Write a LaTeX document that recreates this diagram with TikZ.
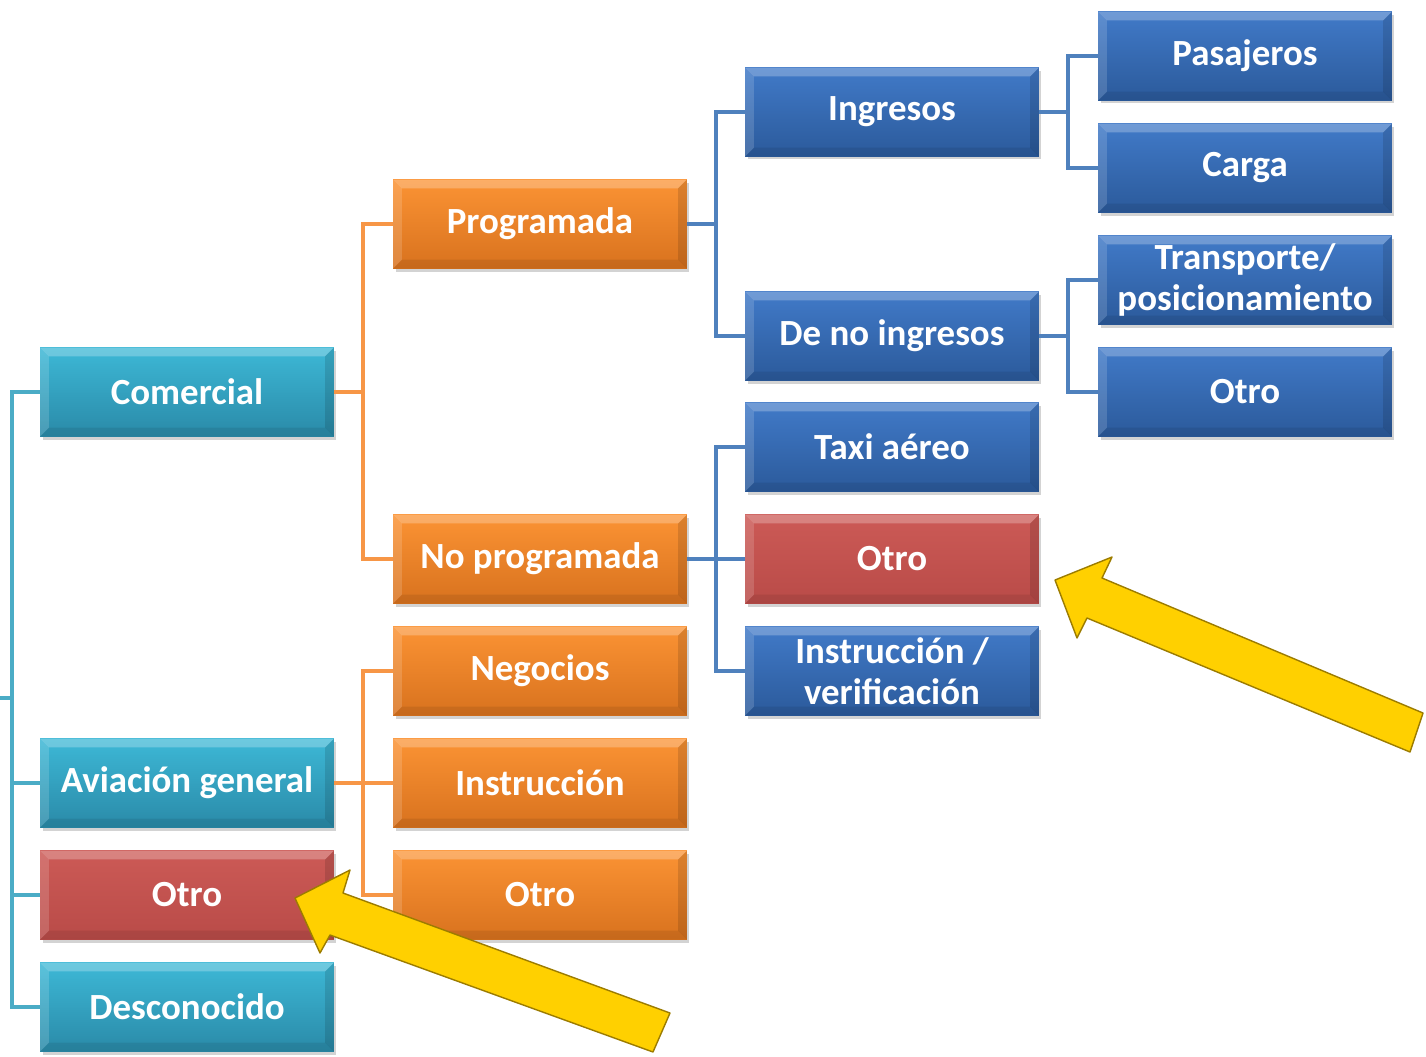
\documentclass[tikz,border=0pt]{standalone}
\usepackage{fontspec}
\setmainfont{Carlito}
\usetikzlibrary{shadows}
\definecolor{tealtop}{HTML}{3DB8D6}
\definecolor{tealbot}{HTML}{2A8AA8}
\definecolor{orgtop}{HTML}{FB9334}
\definecolor{orgbot}{HTML}{D8721E}
\definecolor{blutop}{HTML}{417AC8}
\definecolor{blubot}{HTML}{2B5A9B}
\definecolor{redtop}{HTML}{CC5A56}
\definecolor{redbot}{HTML}{B94B48}
\definecolor{tealln}{HTML}{4BACC6}
\definecolor{orgln}{HTML}{F79646}
\definecolor{bluln}{HTML}{4F81BD}
\definecolor{flecha}{HTML}{FFD000}
\definecolor{flechaborde}{HTML}{9C7C00}

\tikzset{
  caja/.style={rectangle, minimum width=5.88cm, minimum height=1.78cm, inner sep=0pt,
    text=white, align=center, font=\bfseries\fontsize{21}{23.5}\selectfont,
    drop shadow={shadow xshift=0.05cm, shadow yshift=-0.06cm, opacity=0.35},
    path picture={
      \fill[white,opacity=0.25] (path picture bounding box.north west) -- (path picture bounding box.north east)
        -- ([xshift=-5pt,yshift=-5pt]path picture bounding box.north east) -- ([xshift=5pt,yshift=-5pt]path picture bounding box.north west) -- cycle;
      \fill[white,opacity=0.15] (path picture bounding box.north west) -- ([xshift=5pt,yshift=-5pt]path picture bounding box.north west)
        -- ([xshift=5pt,yshift=5pt]path picture bounding box.south west) -- (path picture bounding box.south west) -- cycle;
      \fill[black,opacity=0.12] (path picture bounding box.north east) -- ([xshift=-5pt,yshift=-5pt]path picture bounding box.north east)
        -- ([xshift=-5pt,yshift=5pt]path picture bounding box.south east) -- (path picture bounding box.south east) -- cycle;
      \fill[black,opacity=0.08] (path picture bounding box.south west) -- ([xshift=5pt,yshift=5pt]path picture bounding box.south west)
        -- ([xshift=-5pt,yshift=5pt]path picture bounding box.south east) -- (path picture bounding box.south east) -- cycle;
    }},
  cteal/.style={caja, top color=tealtop, bottom color=tealbot},
  corg/.style={caja, top color=orgtop, bottom color=orgbot},
  cblu/.style={caja, top color=blutop, bottom color=blubot},
  cred/.style={caja, top color=redtop, bottom color=redbot},
  lteal/.style={draw=tealln, line width=2.2pt},
  lorg/.style={draw=orgln, line width=2.2pt},
  lblu/.style={draw=bluln, line width=2.2pt},
  flechaamar/.style={fill=flecha, draw=flechaborde, line width=0.8pt, line join=round}
}

\begin{document}
\begin{tikzpicture}[x=0.02cm, y=-0.02cm]
    \useasboundingbox (0,0) rectangle (1426,1056);
    % primer nivel
    \node[cteal] (com) at (187,392) {Comercial};
    \node[cteal] (avg) at (187,783) {Aviación general};
    \node[cred] (otro1) at (187,895) {Otro};
    \node[cteal] (desc) at (187,1007) {Desconocido};
    % segundo nivel
    \node[corg] (prog) at (540,224) {Programada};
    \node[corg] (noprog) at (540,559) {No programada};
    \node[corg] (neg) at (540,671) {Negocios};
    \node[corg] (instr) at (540,783) {Instrucción};
    \node[corg] (otro2) at (540,895) {Otro};
    % tercer nivel
    \node[cblu] (ing) at (892,112) {Ingresos};
    \node[cblu] (deno) at (892,336) {De no ingresos};
    \node[cblu] (taxi) at (892,447) {Taxi aéreo};
    \node[cred] (otro3) at (892,559) {Otro};
    \node[cblu] (instver) at (892,671) {Instrucción /\\verificación};
    % cuarto nivel
    \node[cblu] (pas) at (1245,56) {Pasajeros};
    \node[cblu] (carga) at (1245,168) {Carga};
    \node[cblu] (transp) at (1245,280) {Transporte/\\posicionamiento};
    \node[cblu] (otro4) at (1245,392) {Otro};

    \coordinate (raiz) at (0,698);
    \coordinate (bus) at (12,698);
    \draw[lteal] (raiz) -- (bus) |- (com.west);
    \draw[lteal] (bus) |- (avg.west);
    \draw[lteal] (bus) |- (otro1.west);
    \draw[lteal] (bus) |- (desc.west);

    \draw[lorg] (com.east) -- ++(29,0) |- (prog.west);
    \draw[lorg] (com.east) -- ++(29,0) |- (noprog.west);
    \draw[lorg] (avg.east) -- ++(29,0) |- (neg.west);
    \draw[lorg] (avg.east) -- (instr.west);
    \draw[lorg] (avg.east) -- ++(29,0) |- (otro2.west);

    \draw[lblu] (prog.east) -- ++(29,0) |- (ing.west);
    \draw[lblu] (prog.east) -- ++(29,0) |- (deno.west);
    \draw[lblu] (noprog.east) -- ++(29,0) |- (taxi.west);
    \draw[lblu] (noprog.east) -- (otro3.west);
    \draw[lblu] (noprog.east) -- ++(29,0) |- (instver.west);
    \draw[lblu] (ing.east) -- ++(29,0) |- (pas.west);
    \draw[lblu] (ing.east) -- ++(29,0) |- (carga.west);
    \draw[lblu] (deno.east) -- ++(29,0) |- (transp.west);
    \draw[lblu] (deno.east) -- ++(29,0) |- (otro4.west);

    % flechas amarillas
    \filldraw[flechaamar] (1055,580) -- (1112,557) -- (1102,578) -- (1423,713) -- (1410,752) -- (1087,618) -- (1077,638) -- cycle;
    \filldraw[flechaamar] (295,898) -- (350,870) -- (343,893) -- (670,1013) -- (653,1052) -- (330,935) -- (320,953) -- cycle;
\end{tikzpicture}
\end{document}
